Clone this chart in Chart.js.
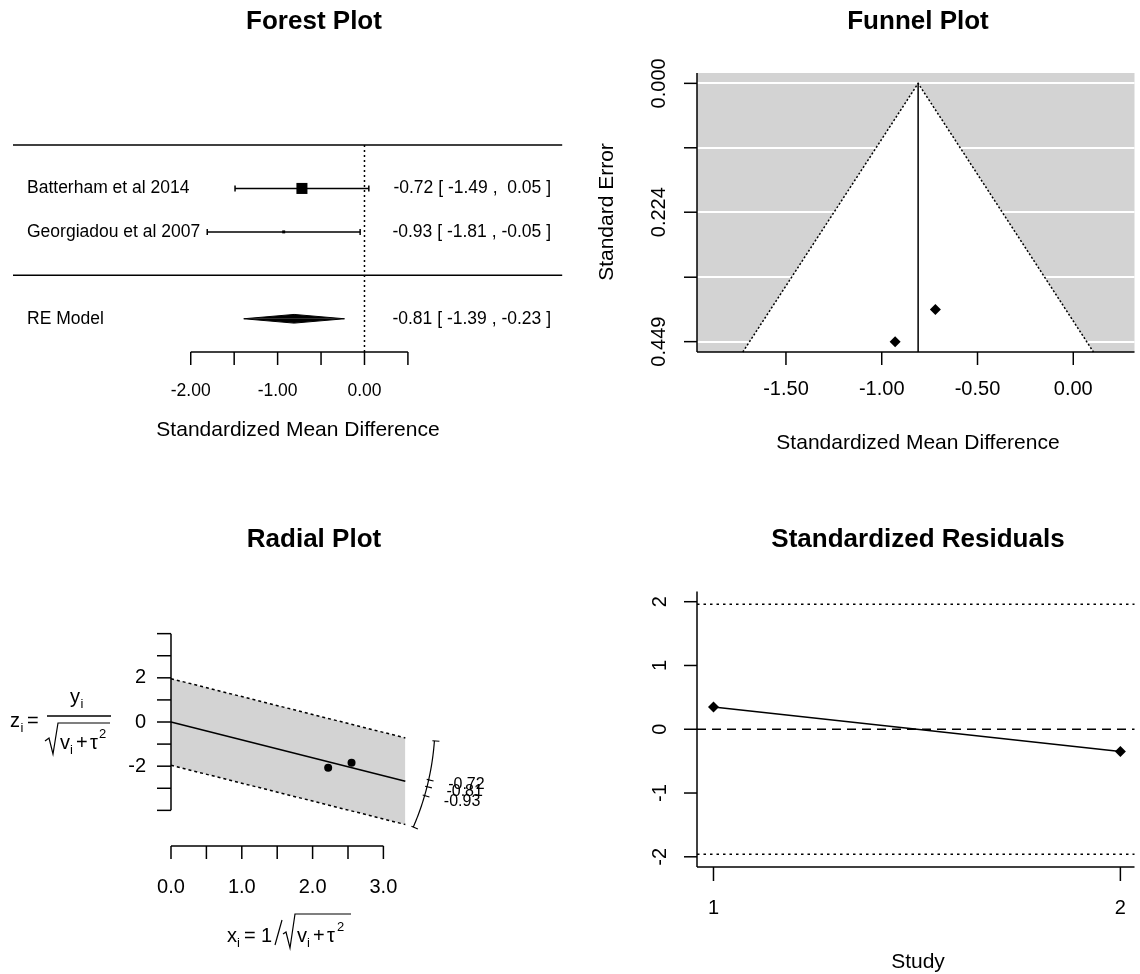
<!DOCTYPE html>
<html>
<head>
<meta charset="utf-8">
<title>Meta-analysis diagnostic plots</title>
<script src="https://cdn.jsdelivr.net/npm/chart.js@4.4.1/dist/chart.umd.min.js"></script>
<style>
  html, body { margin: 0; padding: 0; background: #fff; }
  #wrap { position: relative; width: 1140px; height: 974px; }
  #wrap canvas { position: absolute; }
</style>
</head>
<body>
<div id="wrap">
  <canvas id="forest" width="570" height="487" style="left:0;top:0"></canvas>
  <canvas id="funnel" width="570" height="487" style="left:570px;top:0"></canvas>
  <canvas id="radial" width="570" height="487" style="left:0;top:487px"></canvas>
  <canvas id="resid" width="570" height="487" style="left:570px;top:487px"></canvas>
</div>
<script>
// study level results
const studies = ['Batterham et al 2014', 'Georgiadou et al 2007'];
const effects = [-0.72, -0.93];
const ciLower = [-1.49, -1.81];
const ciUpper = [0.05, -0.05];
const weights = [56.6, 43.4];
const stdErrors = [0.393, 0.449];

// random-effects model
const reEstimate = -0.81;
const reLower = -1.39;
const reUpper = -0.23;

// radial plot coordinates
const radialX = [2.55, 2.22];
const radialZ = [-1.85, -2.07];
const radialArcValues = [-0.23, -0.72, -0.81, -0.93, -1.39];
const radialArcLabels = ['', '-0.72', '-0.81', '-0.93', ''];

// standardized residuals
const studyIndex = [1, 2];
const residuals = [0.35, -0.35];

// axis ticks
const forestTicks = [-2, -1.5, -1, -0.5, 0, 0.5];
const forestTickLabels = ['-2.00', '', '-1.00', '', '0.00', ''];
const funnelXTicks = [-1.5, -1, -0.5, 0];
const funnelXTickLabels = ['-1.50', '-1.00', '-0.50', '0.00'];
const funnelYTicks = [0, 0.112, 0.224, 0.337, 0.449];
const funnelYTickLabels = ['0.000', '', '0.224', '', '0.449'];
const radialXTicks = [0, 0.5, 1, 1.5, 2, 2.5, 3];
const radialXTickLabels = ['0.0', '', '1.0', '', '2.0', '', '3.0'];
const radialYTicks = [4, 3, 2, 1, 0, -1, -2, -3, -4];
const radialYTickLabels = ['', '', '2', '', '0', '', '-2', '', ''];
const residYTicks = [2, 1, 0, -1, -2];

const FONT = '"Liberation Sans", Arial, sans-serif';
const TITLE = 26;
const LAB = 21;
const LW = 1.5;
const GRAY = '#d3d3d3';

function text(ctx, s, x, y, size, o = {}) {
  ctx.save();
  ctx.font = (o.bold ? 'bold ' : '') + size + 'px ' + FONT;
  ctx.fillStyle = '#000';
  ctx.textAlign = o.align || 'center';
  ctx.textBaseline = o.base || 'middle';
  ctx.translate(x, y);
  if (o.rot) ctx.rotate(o.rot);
  ctx.fillText(s, 0, 0);
  ctx.restore();
}

function line(ctx, pts, w = LW) {
  ctx.save();
  ctx.strokeStyle = '#000';
  ctx.lineWidth = w;
  ctx.beginPath();
  pts.forEach(([px, py], i) => (i ? ctx.lineTo(px, py) : ctx.moveTo(px, py)));
  ctx.stroke();
  ctx.restore();
}

// R style axes: outward ticks, line only where asked
function axisBottom(ctx, scale, ticks, labels, o) {
  const xs = ticks.map(t => scale.getPixelForValue(t));
  line(ctx, [[o.from ?? xs[0], o.at], [o.to ?? xs[xs.length - 1], o.at]]);
  xs.forEach((px, i) => {
    line(ctx, [[px, o.at], [px, o.at + o.len]]);
    if (labels[i]) text(ctx, labels[i], px, o.labelAt, o.size);
  });
}

function axisLeft(ctx, scale, ticks, labels, o) {
  const ys = ticks.map(t => scale.getPixelForValue(t));
  line(ctx, [[o.at, o.from ?? ys[0]], [o.at, o.to ?? ys[ys.length - 1]]]);
  ys.forEach((py, i) => {
    line(ctx, [[o.at - o.len, py], [o.at, py]]);
    if (!labels[i]) return;
    if (o.rotate) text(ctx, labels[i], o.labelAt, py, o.size, { rot: -Math.PI / 2 });
    else text(ctx, labels[i], o.labelAt, py, o.size, { align: 'right' });
  });
}

const seg = (pts, o = {}) => ({
  data: pts, showLine: true, pointRadius: 0, borderColor: '#000',
  borderWidth: LW, fill: false, clip: false, ...o,
});

function baseOptions(padding, xr, yr) {
  return {
    responsive: false,
    animation: false,
    events: [],
    layout: { padding },
    plugins: {
      legend: { display: false },
      tooltip: { enabled: false },
      filler: { drawTime: 'beforeDatasetsDraw' },
    },
    scales: {
      x: { type: 'linear', min: xr[0], max: xr[1], display: false },
      y: { type: 'linear', min: yr[0], max: yr[1], display: false },
    },
  };
}

// ---------- Forest plot ----------
const rows = studies.map((_, i) => studies.length - i);
const reRow = -1;
const wMin = Math.min(...weights);
const wMax = Math.max(...weights);
const squareRadius = weights.map(w => 2.1 + 5.7 * (w - wMin) / (wMax - wMin));
const pad = v => (v < 0 ? '' : ' ') + v.toFixed(2);
const ciText = (e, l, h) => `${pad(e)} [ ${pad(l)} , ${pad(h)} ]`;
const forestX = [-4.046, 2.276];

new Chart(document.getElementById('forest'), {
  type: 'scatter',
  data: {
    datasets: [
      {
        data: effects.map((e, i) => ({ x: e, y: rows[i] })),
        pointStyle: 'rect', pointRadius: squareRadius,
        backgroundColor: '#000', borderColor: '#000', borderWidth: 0, clip: false,
      },
      seg([{ x: reLower, y: reRow }, { x: reEstimate, y: reRow + 0.1 }, { x: reUpper, y: reRow }],
        { fill: { value: reRow }, backgroundColor: '#000', borderWidth: 1 }),
      seg([{ x: reLower, y: reRow }, { x: reEstimate, y: reRow - 0.1 }, { x: reUpper, y: reRow }],
        { fill: { value: reRow }, backgroundColor: '#000', borderWidth: 1 }),
      ...effects.map((_, i) => seg(
        [{ x: ciLower[i], y: rows[i] }, { x: ciUpper[i], y: rows[i] }],
        { pointStyle: 'line', pointRotation: 90, pointRadius: 3, pointBorderWidth: LW, pointBorderColor: '#000' })),
      seg([{ x: 0, y: 3 }, { x: 0, y: -1.765 }], { borderDash: [2, 3] }),
      seg([{ x: forestX[0], y: 3 }, { x: forestX[1], y: 3 }]),
      seg([{ x: forestX[0], y: 0 }, { x: forestX[1], y: 0 }]),
    ],
  },
  options: baseOptions({ left: 13, right: 7, top: 145, bottom: 135 }, forestX, [-1.765, 3]),
  plugins: [{
    id: 'forestDecor',
    afterDraw(chart) {
      const { ctx, chartArea: a, scales: { x, y } } = chart;
      text(ctx, 'Forest Plot', 314, 22, TITLE, { bold: true });
      rows.forEach((r, i) => {
        text(ctx, studies[i], 27, y.getPixelForValue(r), 17.5, { align: 'left' });
        text(ctx, ciText(effects[i], ciLower[i], ciUpper[i]), 551, y.getPixelForValue(r), 17.5, { align: 'right' });
      });
      text(ctx, 'RE Model', 27, y.getPixelForValue(reRow), 17.5, { align: 'left' });
      text(ctx, ciText(reEstimate, reLower, reUpper), 551, y.getPixelForValue(reRow), 17.5, { align: 'right' });
      axisBottom(ctx, x, forestTicks, forestTickLabels, { at: a.bottom, len: 13, labelAt: 391, size: 17.5 });
      text(ctx, 'Standardized Mean Difference', 298, 430, LAB);
    },
  }],
});

// ---------- Funnel plot ----------
const seMax = 0.467;
const funnelHalf = 1.96 * seMax;
const funnelOpts = baseOptions({ left: 127, right: 0, top: 73, bottom: 135 }, [-1.9644, 0.3196], [-0.018, seMax]);
funnelOpts.scales.y = {
  type: 'linear', reverse: true, min: -0.018, max: seMax, position: 'left',
  ticks: { display: false },
  border: { display: false },
  grid: { color: '#fff', lineWidth: 2, drawTicks: false },
  afterBuildTicks: s => { s.ticks = funnelYTicks.map(v => ({ value: v })); },
  afterFit: s => { s.width = 0; },
};

new Chart(document.getElementById('funnel'), {
  type: 'scatter',
  data: {
    datasets: [
      {
        data: effects.map((e, i) => ({ x: e, y: stdErrors[i] })),
        pointStyle: 'rectRot', pointRadius: 5.5,
        backgroundColor: '#000', borderColor: '#000', borderWidth: 0,
      },
      seg([{ x: reEstimate, y: 0 }, { x: reEstimate, y: seMax }]),
      seg([{ x: reEstimate - funnelHalf, y: seMax }, { x: reEstimate, y: 0 }, { x: reEstimate + funnelHalf, y: seMax }],
        { fill: { value: seMax }, backgroundColor: '#fff', borderDash: [2, 2] }),
    ],
  },
  options: funnelOpts,
  plugins: [{
    id: 'funnelDecor',
    beforeDraw(chart) {
      const { ctx, chartArea: a } = chart;
      ctx.save();
      ctx.fillStyle = GRAY;
      ctx.fillRect(a.left, a.top, a.right - a.left, a.bottom - a.top);
      ctx.restore();
    },
    afterDraw(chart) {
      const { ctx, chartArea: a, scales: { x, y } } = chart;
      text(ctx, 'Funnel Plot', 348, 22, TITLE, { bold: true });
      axisLeft(ctx, y, funnelYTicks, funnelYTickLabels,
        { at: a.left, from: a.top, to: a.bottom, len: 13, labelAt: 89, size: 20, rotate: true });
      axisBottom(ctx, x, funnelXTicks, funnelXTickLabels,
        { at: a.bottom, from: a.left, to: a.right, len: 13, labelAt: 389, size: 20 });
      text(ctx, 'Standard Error', 37, 212, LAB, { rot: -Math.PI / 2 });
      text(ctx, 'Standardized Mean Difference', 348, 443, LAB);
    },
  }],
});

// ---------- Radial plot ----------
const radialXMax = 3.31;
const radialArcRadius = 3.73;

new Chart(document.getElementById('radial'), {
  type: 'scatter',
  data: {
    datasets: [
      {
        data: radialX.map((v, i) => ({ x: v, y: radialZ[i] })),
        pointStyle: 'circle', pointRadius: 4,
        backgroundColor: '#000', borderColor: '#000', borderWidth: 0,
      },
      seg([{ x: 0, y: 0 }, { x: radialXMax, y: reEstimate * radialXMax }]),
      seg([{ x: 0, y: 1.96 }, { x: radialXMax, y: 1.96 + reEstimate * radialXMax }],
        { borderDash: [3, 3], fill: '+1', backgroundColor: GRAY }),
      seg([{ x: 0, y: -1.96 }, { x: radialXMax, y: -1.96 + reEstimate * radialXMax }],
        { borderDash: [3, 3] }),
    ],
  },
  options: baseOptions({ left: 150, right: 30, top: 133, bottom: 114 }, [-0.2966, 5.2119], [-6.247, 4.6175]),
  plugins: [{
    id: 'radialDecor',
    afterDraw(chart) {
      const { ctx, scales: { x, y } } = chart;
      text(ctx, 'Radial Plot', 314, 53, TITLE, { bold: true });
      const ox = x.getPixelForValue(0);
      const oy = y.getPixelForValue(0);
      axisLeft(ctx, y, radialYTicks, radialYTickLabels, { at: ox, len: 14, labelAt: 146, size: 20 });
      axisBottom(ctx, x, radialXTicks, radialXTickLabels, { at: 359, len: 13, labelAt: 400, size: 20 });

      // arc scale on the right
      const R = x.getPixelForValue(radialArcRadius) - ox;
      const dir = b => {
        const dx = x.getPixelForValue(1) - ox;
        const dy = y.getPixelForValue(b) - oy;
        const n = Math.hypot(dx, dy);
        return [dx / n, dy / n];
      };
      const b0 = radialArcValues[0];
      const b1 = radialArcValues[radialArcValues.length - 1];
      const arc = [];
      for (let k = 0; k <= 40; k++) {
        const [ux, uy] = dir(b0 + (b1 - b0) * k / 40);
        arc.push([ox + R * ux, oy + R * uy]);
      }
      line(ctx, arc, 1.2);
      radialArcValues.forEach((b, i) => {
        const [ux, uy] = dir(b);
        line(ctx, [[ox + (R - 2) * ux, oy + (R - 2) * uy], [ox + (R + 5) * ux, oy + (R + 5) * uy]], 1.2);
        if (radialArcLabels[i]) {
          text(ctx, radialArcLabels[i], ox + (R + 20) * ux, oy + (R + 20) * uy, 16, { align: 'left' });
        }
      });

      // y label: z_i = y_i / sqrt(v_i + tau^2)
      const al = { align: 'left', base: 'alphabetic' };
      text(ctx, 'z', 10, 240, 20, al);
      text(ctx, 'i', 20.5, 245, 13, al);
      text(ctx, '=', 27, 240, 20, al);
      text(ctx, 'y', 70, 216, 20, al);
      text(ctx, 'i', 80.5, 221, 13, al);
      line(ctx, [[47, 229], [111, 229]], 1.5);
      line(ctx, [[45, 254], [49, 251], [53, 267], [58, 236], [110, 236]], 1.2);
      text(ctx, 'v', 60, 262, 20, al);
      text(ctx, 'i', 70, 267, 13, al);
      text(ctx, '+', 76, 262, 20, al);
      text(ctx, '\u03c4', 90, 262, 20, al);
      text(ctx, '2', 99, 251, 13, al);

      // x label: x_i = 1 / sqrt(v_i + tau^2)
      text(ctx, 'x', 227, 455, 20, al);
      text(ctx, 'i', 237, 460, 13, al);
      text(ctx, '=', 244, 455, 20, al);
      text(ctx, '1', 261, 455, 20, al);
      line(ctx, [[275, 458], [282, 433]], 1.2);
      line(ctx, [[283, 447], [286, 445], [290, 461], [295, 427], [351, 427]], 1.2);
      text(ctx, 'v', 297, 455, 20, al);
      text(ctx, 'i', 307, 460, 13, al);
      text(ctx, '+', 313, 455, 20, al);
      text(ctx, '\u03c4', 327, 455, 20, al);
      text(ctx, '2', 337, 444, 13, al);
    },
  }],
});

// ---------- Standardized residuals ----------
const residX = [0.9595, 2.0347];

new Chart(document.getElementById('resid'), {
  type: 'scatter',
  data: {
    datasets: [
      seg(studyIndex.map((s, i) => ({ x: s, y: residuals[i] })),
        { pointStyle: 'rectRot', pointRadius: 5.5, pointBackgroundColor: '#000', pointBorderWidth: 0 }),
      seg([{ x: residX[0], y: 0 }, { x: residX[1], y: 0 }], { borderDash: [9, 6] }),
      seg([{ x: residX[0], y: 1.96 }, { x: residX[1], y: 1.96 }], { borderDash: [2.5, 4] }),
      seg([{ x: residX[0], y: -1.96 }, { x: residX[1], y: -1.96 }], { borderDash: [2.5, 4] }),
    ],
  },
  options: baseOptions({ left: 127, right: 0, top: 104.5, bottom: 107 }, residX, [-2.16, 2.16]),
  plugins: [{
    id: 'residDecor',
    afterDraw(chart) {
      const { ctx, chartArea: a, scales: { x, y } } = chart;
      text(ctx, 'Standardized Residuals', 348, 53, TITLE, { bold: true });
      axisLeft(ctx, y, residYTicks, residYTicks.map(String),
        { at: a.left, from: a.top, to: a.bottom, len: 13, labelAt: 90, size: 20, rotate: true });
      axisBottom(ctx, x, studyIndex, studyIndex.map(String),
        { at: a.bottom, from: a.left, to: a.right, len: 14, labelAt: 421, size: 20 });
      text(ctx, 'Study', 348, 475, LAB);
    },
  }],
});
</script>
</body>
</html>
